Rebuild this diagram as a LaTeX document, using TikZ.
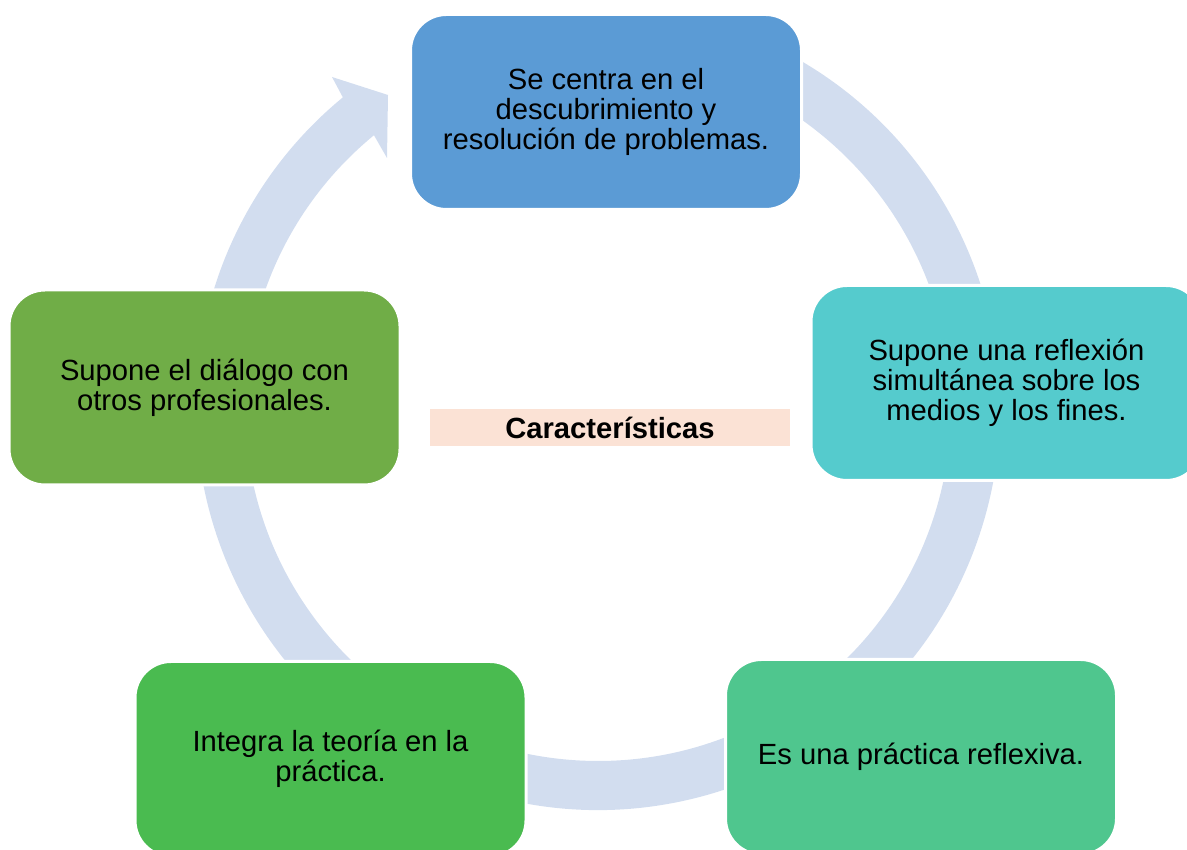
\documentclass[tikz,border=0pt]{standalone}
\usepackage{fontspec}
\setmainfont{Liberation Sans}
\usetikzlibrary{calc}

\definecolor{ringcol}{HTML}{D2DDEF}
\definecolor{bluecol}{HTML}{5B9BD5}
\definecolor{tealcol}{HTML}{55CBCD}
\definecolor{mintcol}{HTML}{4FC68E}
\definecolor{greencol}{HTML}{4ABB50}
\definecolor{olivecol}{HTML}{70AD47}
\definecolor{titlecol}{HTML}{FBE2D5}

\begin{document}
\begin{tikzpicture}[x=0.5pt,y=0.5pt,
  box node/.style={rectangle,rounded corners=18pt,draw=white,line width=1.5pt,
    minimum width=195.5pt,minimum height=97.5pt,align=center,
    font=\fontsize{14.6}{15}\selectfont},
  title node/.style={rectangle,fill=titlecol,minimum width=180pt,minimum height=18.5pt,
    inner sep=0pt,font=\fontsize{14.6}{15}\selectfont\bfseries}]

  \useasboundingbox (0,0) rectangle (1187,850);
  \clip (0,0) rectangle (1187,850);

  % cycle arrow
  \coordinate (o) at (598,442);
  \fill[ringcol] ($(o)+(70:201pt)$) arc[start angle=70,end angle=-230.6,radius=201pt]
    -- (332,773) -- (388,755) -- (387,692)
    -- ($(o)+(-230.6:176.5pt)$) arc[start angle=-230.6,end angle=70,radius=176.5pt] -- cycle;

  \node[box node,fill=bluecol] (c1) at (606,738) {Se centra en el\\descubrimiento y\\resolución de problemas.};
  \node[box node,fill=tealcol] (c2) at (1006.5,467) {Supone una reflexión\\simultánea sobre los\\medios y los fines.};
  \node[box node,fill=mintcol] (c3) at (921,93) {Es una práctica reflexiva.};
  \node[box node,fill=greencol] (c4) at (330.5,91) {Integra la teoría en la\\práctica.};
  \node[box node,fill=olivecol] (c5) at (204.5,462.5) {Supone el diálogo con\\otros profesionales.};

  \node[title node] (title) at (610,422.5) {Características};

\end{tikzpicture}
\end{document}
